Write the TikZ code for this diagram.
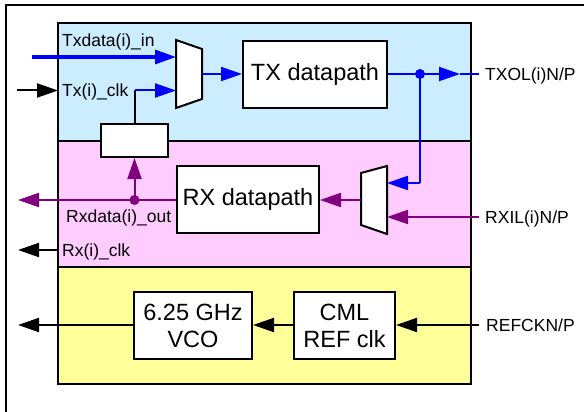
\documentclass[tikz,border=0pt]{standalone}
\usepackage{fontspec}
\setmainfont{Liberation Sans}
\usetikzlibrary{arrows.meta}
\definecolor{txfill}{HTML}{CCECFF}
\definecolor{rxfill}{HTML}{FFCCFF}
\definecolor{pllfill}{HTML}{FFFF99}
\definecolor{txblue}{HTML}{0000FF}
\definecolor{rxpurple}{HTML}{800080}
\tikzset{
  region/.style={draw=black, line width=2pt},
  block/.style={draw=black, fill=white, line width=2pt, inner sep=0pt,
                font=\fontsize{23.5}{27}\selectfont, align=center},
  lbl/.style={inner sep=0pt, font=\fontsize{17.5}{21}\selectfont},
  wire/.style={line width=2pt},
  arr/.style={wire, -{Triangle[length=21pt,width=14pt]}},
  muxshape/.style={draw=black, fill=white, line width=2pt, line join=miter},
  dotb/.style={circle, fill, inner sep=0pt, minimum size=10pt},
}
\begin{document}
\begin{tikzpicture}[x=1pt, y=-1pt]
\useasboundingbox (0,0) rectangle (584,412);
\fill[white] (0,0) rectangle (584,412);
% outer frame
\draw[line width=2.5pt] (6,412) -- (6,5) -- (584,5);

% three sections
\draw[region, fill=txfill]  (58,23)  rectangle (471,141);
\draw[region, fill=rxfill]  (58,141) rectangle (471,267);
\draw[region, fill=pllfill] (58,267) rectangle (471,384);

% blocks
\node[block, minimum width=144pt, minimum height=67pt] (txdp) at (315,74.5) {TX datapath};
\node[block, minimum width=142pt, minimum height=67pt] (rxdp) at (248,199.5) {RX datapath};
\node[block, minimum width=67pt, minimum height=33pt] (sel) at (134.5,140.5) {};
\node[block, minimum width=118pt, minimum height=67pt] (vco) at (193,325.5) {6.25 GHz\\VCO};
\node[block, minimum width=101pt, minimum height=67pt] (cml) at (344.5,325.5) {CML\\REF clk};

% TX mux
\draw[muxshape] (176,40) -- (202,49) -- (202,99) -- (176,108) -- cycle;
\coordinate (txmuxA) at (176,57);
\coordinate (txmuxB) at (176,90.5);
\coordinate (txmuxO) at (202,74);
% RX mux
\draw[muxshape] (387,166) -- (361,173) -- (361,225) -- (387,234) -- cycle;
\coordinate (rxmuxA) at (387,183);
\coordinate (rxmuxB) at (387,217);
\coordinate (rxmuxO) at (361,200);

% free ends and junctions
\coordinate (txdin)  at (32,57);
\coordinate (txcin)  at (17,90.5);
\coordinate (txcedge) at (58,90.5);
\coordinate (selup)  at (134.5,90.5);
\coordinate (txoend) at (479,74);
\coordinate (txotip) at (460,74);
\coordinate (lbturn) at (420,183);
\coordinate (rxin)   at (479,217);
\coordinate (rxdout) at (18,200);
\coordinate (rxcsrc) at (58,250);
\coordinate (rxcout) at (18,250);
\coordinate (refin)  at (479,325);
\coordinate (pllout) at (18,325);
\node[dotb, txblue] (txj) at (420,74) {};
\node[dotb, rxpurple] (rxj) at (134.5,200) {};

% TX side
\draw[arr, txblue, line width=3.3pt] (txdin) -- (txmuxA);
\draw[arr] (txcin) -- (txcedge);
\draw[wire] (sel.north) -- (selup);
\draw[arr, txblue] (selup) -- (txmuxB);
\draw[arr, txblue] (txmuxO) -- (txdp.west |- txmuxO);
\draw[wire, txblue] (txdp.east |- txj) -- (txj.center);
\draw[arr, txblue] (txj.center) -- (txotip);
\draw[wire, txblue] (txotip) -- (txoend);
\draw[wire, txblue] (txj.center) -- (lbturn);
\draw[arr, txblue] (lbturn) -- (rxmuxA);

% RX side
\draw[arr, rxpurple] (rxin) -- (rxmuxB);
\draw[arr, rxpurple] (rxmuxO) -- (rxdp.east |- rxmuxO);
\draw[wire, rxpurple] (rxdp.west |- rxj) -- (rxj.center);
\draw[arr, rxpurple] (rxj.center) -- (rxdout);
\draw[arr, rxpurple] (rxj.center) -- (sel.south);
\draw[arr] (rxcsrc) -- (rxcout);

% clock generation
\draw[arr] (refin) -- (cml.east |- refin);
\draw[arr] (cml.west |- refin) -- (vco.east |- refin);
\draw[arr] (vco.west |- refin) -- (pllout);

% labels
\node[lbl, anchor=base west] (l1) at (62,47) {Txdata(i)\_in};
\node[lbl, anchor=base west] (l2) at (62,96) {Tx(i)\_clk};
\node[lbl, anchor=base west] (l3) at (485,80.5) {TXOL(i)N/P};
\node[lbl, anchor=base west] (l4) at (66,222.5) {Rxdata(i)\_out};
\node[lbl, anchor=base west] (l5) at (62,256) {Rx(i)\_clk};
\node[lbl, anchor=base west] (l6) at (485,223) {RXIL(i)N/P};
\node[lbl, anchor=base west] (l7) at (486,331) {REFCKN/P};
\end{tikzpicture}
\end{document}
